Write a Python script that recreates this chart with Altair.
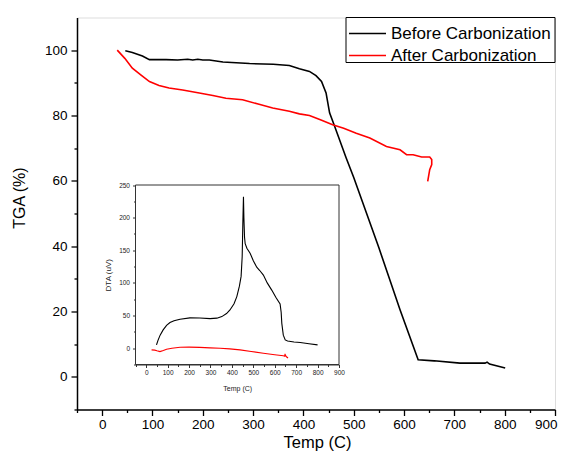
import altair as alt
import pandas as pd

series = ["Before Carbonization", "After Carbonization"]
colors = ["#000000", "#ff0000"]

# Main TGA curves
before_t = [46, 60, 80, 94, 127, 150, 170, 180, 190, 200, 213, 240, 293, 340, 372, 392, 412, 425, 436, 445, 452, 462, 485, 500, 550, 592, 628, 660, 711, 740, 761, 765, 770, 801]
before_w = [99.8, 99.3, 98.2, 97.1, 97.1, 97.0, 97.2, 97.0, 97.2, 97.0, 97.0, 96.4, 95.9, 95.7, 95.3, 94.3, 93.5, 92.2, 90.4, 86.9, 80.8, 76.7, 67.0, 61.0, 39.5, 20.5, 5.2, 4.9, 4.2, 4.2, 4.2, 4.5, 3.9, 2.7]
after_t = [30, 45, 60, 78, 94, 113, 133, 160, 193, 220, 246, 279, 310, 339, 372, 392, 412, 435, 458, 480, 505, 532, 565, 592, 605, 618, 635, 651, 655, 655, 651, 647]
after_w = [100, 97.5, 94.5, 92.3, 90.4, 89.2, 88.4, 87.8, 86.9, 86.1, 85.3, 84.8, 83.5, 82.3, 81.3, 80.5, 80.0, 78.6, 77.2, 76.1, 74.6, 73.1, 70.5, 69.5, 68.0, 68.0, 67.3, 67.3, 66.5, 65.0, 63.4, 59.8]

# Inset DTA curves
dta_b_t = [48, 55, 65, 79, 95, 111, 130, 158, 204, 250, 298, 330, 353, 375, 391, 410, 423, 435, 443, 448, 451, 454, 456, 459, 462, 470, 485, 500, 516, 530, 547, 565, 586, 605, 625, 630, 633, 640, 649, 660, 690, 719, 760, 800]
dta_b_v = [5, 12, 20, 28, 35, 39.2, 42, 44.4, 46.4, 46.3, 45.3, 46, 48.4, 53, 58.6, 68, 79, 95, 110, 140, 190, 232, 200, 170, 160, 153, 145.5, 134, 124, 119, 112, 100, 89, 78, 67.8, 55, 38, 20, 12.7, 11, 9.5, 8.6, 6.8, 5]
dta_a_t = [25, 40, 50, 64, 80, 95, 120, 158, 200, 250, 298, 345, 390, 438, 490, 547, 600, 640, 647, 648, 650, 656, 662]
dta_a_v = [-2.6, -3, -4, -5.2, -3.5, -1.6, 0, 1.5, 1.6, 1.2, 0.5, 0, -1, -2.6, -5, -7.7, -10, -11.5, -12.3, -8.8, -11, -13.5, -15]

x_ticks = list(range(-50, 901, 50))
y_ticks = list(range(-10, 101, 10))
inset_x_ticks = list(range(-50, 901, 50))
inset_y_ticks = list(range(-25, 251, 25))

def frame(ts, vs, name):
    return pd.DataFrame({"t": ts, "v": vs, "s": name, "i": range(len(ts))})

main_df = pd.concat([frame(before_t, before_w, series[0]), frame(after_t, after_w, series[1])])
inset_df = pd.concat([frame(dta_b_t, dta_b_v, series[0]), frame(dta_a_t, dta_a_v, series[1])])

W, H = 478, 392
FONT = "Liberation Sans"
color_scale = alt.Scale(domain=series, range=colors)

main = alt.Chart(main_df).mark_line(strokeWidth=1.6).encode(
    x=alt.X("t:Q", scale=alt.Scale(domain=[-50, 900], nice=False, zero=False),
            axis=alt.Axis(title="Temp (C)", values=x_ticks,
                          labelExpr="datum.value % 100 === 0 ? datum.label : ''",
                          tickSize={"condition": {"test": "datum.value % 100 === 0", "value": 6}, "value": 3},
                          grid=False, labelFontSize=13.5, titleFontSize=16.5, labelPadding=2,
                          labelFont=FONT, titleFont=FONT, titleFontWeight="normal",
                          labelColor="black", titleColor="black", domainColor="black",
                          tickColor="black", tickWidth=1.3, domainWidth=1.5,
                          labelOverlap=False, labelFlush=True, labelFlushOffset=2,
                          titleX=240, titleY=33, titleBaseline="middle")),
    y=alt.Y("v:Q", scale=alt.Scale(domain=[-10, 110], nice=False, zero=False),
            axis=alt.Axis(title="TGA (%)", values=y_ticks,
                          labelExpr="datum.value % 20 === 0 ? datum.label : ''",
                          tickSize={"condition": {"test": "datum.value % 20 === 0", "value": 6}, "value": 3},
                          grid=False, labelFontSize=13.5, titleFontSize=16, labelPadding=4,
                          labelFont=FONT, titleFont=FONT, titleFontWeight="normal",
                          labelColor="black", titleColor="black", domainColor="black",
                          tickColor="black", tickWidth=1.3, domainWidth=1.5,
                          labelOverlap=False, labelFlush=False,
                          titleX=-58, titleY=180, titleBaseline="middle", titleAngle=270)),
    color=alt.Color("s:N", scale=color_scale, legend=None),
    order="i:Q",
)

IX = [58.5, 262]
IY = [347, 167.5]
ix_scale = alt.Scale(domain=[-50, 900], range=IX, nice=False, zero=False)
iy_scale = alt.Scale(domain=[-25, 250], range=IY, nice=False, zero=False)

ix_axis = alt.Axis(title="Temp (C)", orient="bottom", offset=-(H - IY[0]),
                   values=inset_x_ticks,
                   labelExpr="datum.value % 100 === 0 ? datum.label : ''",
                   tickSize={"condition": {"test": "datum.value % 100 === 0", "value": 3}, "value": 2},
                   grid=False, labelFontSize=6.5, titleFontSize=7, labelPadding=2,
                   labelFont=FONT, titleFont=FONT, titleFontWeight="normal",
                   labelColor="#222222", titleColor="#222222", domainColor="#333333",
                   tickColor="#333333", tickWidth=1, domainWidth=1,
                   labelOverlap=False, labelFlush=False, titlePadding=8)
iy_axis = alt.Axis(title="DTA (uV)", orient="left", offset=-IX[0],
                   values=inset_y_ticks,
                   labelExpr="datum.value % 50 === 0 ? datum.label : ''",
                   tickSize={"condition": {"test": "datum.value % 50 === 0", "value": 3}, "value": 2},
                   grid=False, labelFontSize=6.5, titleFontSize=8, labelPadding=3,
                   labelFont=FONT, titleFont=FONT, titleFontWeight="normal",
                   labelColor="#222222", titleColor="#222222", domainColor="#333333",
                   tickColor="#333333", tickWidth=1, domainWidth=1,
                   labelOverlap=False, labelFlush=False, titlePadding=6)

inset_box = alt.Chart(pd.DataFrame({"a": [0]})).mark_rect(
    fill="white", stroke="#333333", strokeWidth=1
).encode(
    x=alt.X("x0:Q", scale=ix_scale, axis=ix_axis), x2="x1:Q",
    y=alt.Y("y0:Q", scale=iy_scale, axis=iy_axis), y2="y1:Q",
).transform_calculate(x0="-50", x1="900", y0="-25", y1="250")

inset_lines = alt.Chart(inset_df).mark_line(strokeWidth=1.1).encode(
    x=alt.X("t:Q", scale=ix_scale, axis=ix_axis),
    y=alt.Y("v:Q", scale=iy_scale, axis=iy_axis),
    color=alt.Color("s:N", scale=color_scale, legend=None),
    order="i:Q",
)

inset = alt.layer(inset_box, inset_lines)

# Legend (Origin-style box)
legend_layers = [
    alt.Chart(pd.DataFrame({"a": [0]})).mark_rect(fill="white", stroke="black", strokeWidth=1).encode(
        x=alt.value(269), x2=alt.value(W), y=alt.value(0), y2=alt.value(45))
]
row_y = [16, 38]
for name, col, yy in zip(series, colors, row_y):
    legend_layers.append(
        alt.Chart(pd.DataFrame({"a": [0]})).mark_rule(color=col, strokeWidth=1.6).encode(
            x=alt.value(272), x2=alt.value(309), y=alt.value(yy)))
    legend_layers.append(
        alt.Chart(pd.DataFrame({"a": [0]})).mark_text(
            align="left", baseline="middle", fontSize=17, font=FONT, color="black").encode(
            x=alt.value(314), y=alt.value(yy), text=alt.value(name)))

chart = alt.layer(main, inset, *legend_layers).resolve_scale(
    x="independent", y="independent"
).properties(
    width=W, height=H,
    autosize=alt.AutoSizeParams(type="none"),
    padding={"left": 69, "top": 9.5, "right": 3, "bottom": 41},
).configure_view(stroke="black", strokeWidth=1.5).configure(background="white")

chart.save("out.html", embed_options={"renderer": "svg", "actions": False})
